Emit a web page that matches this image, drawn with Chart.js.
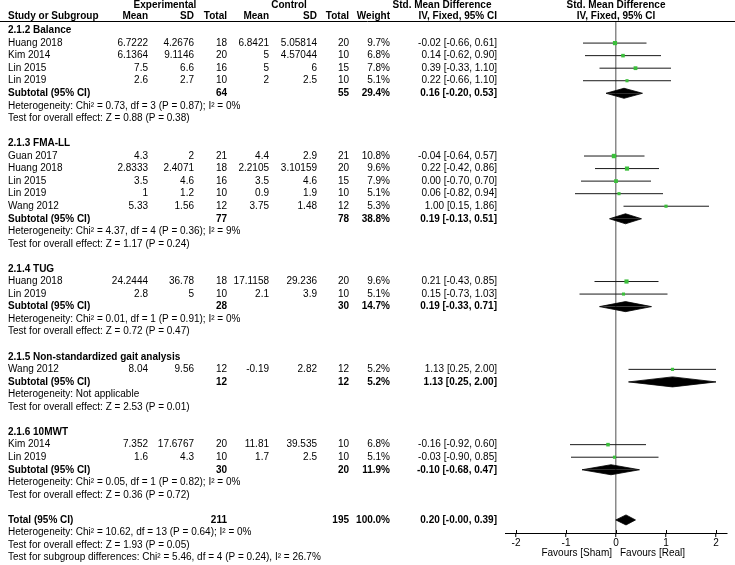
<!DOCTYPE html>
<html><head><meta charset="utf-8">
<script src="https://cdn.jsdelivr.net/npm/chart.js@4"></script>
<style>html,body{margin:0;padding:0;background:#fff}#wrap{width:735px;height:565px;position:relative;overflow:hidden}canvas{display:block}</style>
</head><body><div id="wrap"><canvas id="c" width="735" height="565"></canvas></div>
<script>
// ---------- data ----------
const groupNames = ['2.1.2 Balance', '2.1.3 FMA-LL', '2.1.4 TUG', '2.1.5 Non-standardized gait analysis', '2.1.6 10MWT'];
const groupSizes = [4, 5, 2, 1, 2];
const studyNames = ['Huang 2018', 'Kim 2014', 'Lin 2015', 'Lin 2019',
  'Guan 2017', 'Huang 2018', 'Lin 2015', 'Lin 2019', 'Wang 2012',
  'Huang 2018', 'Lin 2019',
  'Wang 2012',
  'Kim 2014', 'Lin 2019'];
const expMean = ['6.7222', '6.1364', '7.5', '2.6', '4.3', '2.8333', '3.5', '1', '5.33', '24.2444', '2.8', '8.04', '7.352', '1.6'];
const expSD = ['4.2676', '9.1146', '6.6', '2.7', '2', '2.4071', '4.6', '1.2', '1.56', '36.78', '5', '9.56', '17.6767', '4.3'];
const expTotal = [18, 20, 16, 10, 21, 18, 16, 10, 12, 18, 10, 12, 20, 10];
const ctlMean = ['6.8421', '5', '5', '2', '4.4', '2.2105', '3.5', '0.9', '3.75', '17.1158', '2.1', '-0.19', '11.81', '1.7'];
const ctlSD = ['5.05814', '4.57044', '6', '2.5', '2.9', '3.10159', '4.6', '1.9', '1.48', '29.236', '3.9', '2.82', '39.535', '2.5'];
const ctlTotal = [20, 10, 15, 10, 21, 20, 15, 10, 12, 20, 10, 12, 10, 10];
const studyWeight = [9.7, 6.8, 7.8, 5.1, 10.8, 9.6, 7.9, 5.1, 5.3, 9.6, 5.1, 5.2, 6.8, 5.1];
const studySMD = [-0.02, 0.14, 0.39, 0.22, -0.04, 0.22, 0.00, 0.06, 1.00, 0.21, 0.15, 1.13, -0.16, -0.03];
const studyLow = [-0.66, -0.62, -0.33, -0.66, -0.64, -0.42, -0.70, -0.82, 0.15, -0.43, -0.73, 0.25, -0.92, -0.90];
const studyHigh = [0.61, 0.90, 1.10, 1.10, 0.57, 0.86, 0.70, 0.94, 1.86, 0.85, 1.03, 2.00, 0.60, 0.85];

const subExpTotal = [64, 77, 28, 12, 30];
const subCtlTotal = [55, 78, 30, 12, 20];
const subWeight = [29.4, 38.8, 14.7, 5.2, 11.9];
const subSMD = [0.16, 0.19, 0.19, 1.13, -0.10];
const subLow = [-0.20, -0.13, -0.33, 0.25, -0.68];
const subHigh = [0.53, 0.51, 0.71, 2.00, 0.47];
const subHeterogeneity = [
  'Heterogeneity: Chi² = 0.73, df = 3 (P = 0.87); I² = 0%',
  'Heterogeneity: Chi² = 4.37, df = 4 (P = 0.36); I² = 9%',
  'Heterogeneity: Chi² = 0.01, df = 1 (P = 0.91); I² = 0%',
  'Heterogeneity: Not applicable',
  'Heterogeneity: Chi² = 0.05, df = 1 (P = 0.82); I² = 0%'];
const subOverall = [
  'Test for overall effect: Z = 0.88 (P = 0.38)',
  'Test for overall effect: Z = 1.17 (P = 0.24)',
  'Test for overall effect: Z = 0.72 (P = 0.47)',
  'Test for overall effect: Z = 2.53 (P = 0.01)',
  'Test for overall effect: Z = 0.36 (P = 0.72)'];

const totalLabel = 'Total (95% CI)';
const totalExp = 211;
const totalCtl = 195;
const totalWeight = 100.0;
const totalSMD = 0.20;
const totalLow = -0.004;
const totalHigh = 0.39;
const totalNotes = [
  'Heterogeneity: Chi² = 10.62, df = 13 (P = 0.64); I² = 0%',
  'Test for overall effect: Z = 1.93 (P = 0.05)',
  'Test for subgroup differences: Chi² = 5.46, df = 4 (P = 0.24), I² = 26.7%'];

const xTicks = [-2, -1, 0, 1, 2];
const favourLabels = ['Favours [Sham]', 'Favours [Real]'];

// ---------- row layout (row index per line of the table) ----------
const rows = [];   // {r, kind, i}
let r = 0, s = 0;
groupNames.forEach((g, gi) => {
  rows.push({ r: r++, kind: 'group', i: gi });
  for (let k = 0; k < groupSizes[gi]; k++) rows.push({ r: r++, kind: 'study', i: s++ });
  rows.push({ r: r++, kind: 'sub', i: gi });
  rows.push({ r: r++, kind: 'het', i: gi });
  rows.push({ r: r++, kind: 'test', i: gi });
  r++; // blank
});
const totalRow = r;
rows.push({ r: r++, kind: 'total' });
totalNotes.forEach((t, i) => rows.push({ r: r++, kind: 'note', i }));

const studyRow = [];
const subRow = [];
rows.forEach(o => { if (o.kind === 'study') studyRow[o.i] = o.r; if (o.kind === 'sub') subRow[o.i] = o.r; });

// ---------- styles ----------
const FONT = "'Liberation Sans', Arial, sans-serif";
const GREEN = '#3cbf3c';
const DIAMOND_HALF = 0.4;
const f2 = v => v.toFixed(2);
const ciText = (m, l, h) => `${f2(m)} [${f2(l)}, ${f2(h)}]`;
const markerRadius = w => (1.25 * Math.sqrt(w) + 0.3) / Math.SQRT2;

// ---------- datasets ----------
const datasets = [];
datasets.push({
  label: 'markers', order: 0, showLine: false,
  data: studySMD.map((v, i) => ({ x: v, y: studyRow[i] })),
  pointStyle: 'rect',
  pointRadius: studyWeight.map(markerRadius),
  pointHoverRadius: studyWeight.map(markerRadius),
  pointBackgroundColor: GREEN, pointBorderWidth: 0, borderWidth: 0
});
studySMD.forEach((v, i) => {
  datasets.push({
    label: 'ci' + i, order: 1,
    data: [{ x: studyLow[i], y: studyRow[i] }, { x: studyHigh[i], y: studyRow[i] }],
    borderColor: '#1a1a1a', borderWidth: 1, pointRadius: 0, fill: false, tension: 0
  });
});
const diamonds = subSMD.map((v, i) => ({ m: v, l: subLow[i], h: subHigh[i], r: subRow[i] }));
diamonds.push({ m: totalSMD, l: totalLow, h: totalHigh, r: totalRow });
diamonds.forEach((d, i) => {
  [-1, 1].forEach(sgn => {
    datasets.push({
      label: 'dia' + i + sgn, order: 2,
      data: [{ x: d.l, y: d.r }, { x: d.m, y: d.r + sgn * DIAMOND_HALF }, { x: d.h, y: d.r }],
      borderColor: '#000', backgroundColor: '#000', borderWidth: 0.8,
      pointRadius: 0, fill: { value: d.r }, tension: 0
    });
  });
});

// ---------- text plugin ----------
const tablePlugin = {
  id: 'table',
  afterDraw(chart) {
    const ctx = chart.ctx;
    const ys = chart.scales.y, xs = chart.scales.x;
    const x0 = xs.getPixelForValue(0);
    const Y = v => ys.getPixelForValue(v);
    const txt = (t, x, y, align, bold) => {
      ctx.font = (bold ? 'bold ' : '') + '10px ' + FONT;
      ctx.textAlign = align; ctx.textBaseline = 'middle'; ctx.fillStyle = '#000';
      ctx.fillText(String(t), x, y);
    };
    ctx.save();
    // header
    txt('Experimental', 165, 5, 'center', true);
    txt('Control', 289, 5, 'center', true);
    txt('Std. Mean Difference', 442, 5, 'center', true);
    txt('Std. Mean Difference', x0, 5, 'center', true);
    const hy = 16;
    txt('Study or Subgroup', 8, hy, 'left', true);
    txt('Mean', 148, hy, 'right', true);
    txt('SD', 194, hy, 'right', true);
    txt('Total', 227, hy, 'right', true);
    txt('Mean', 269, hy, 'right', true);
    txt('SD', 317, hy, 'right', true);
    txt('Total', 349, hy, 'right', true);
    txt('Weight', 390, hy, 'right', true);
    txt('IV, Fixed, 95% CI', 497, hy, 'right', true);
    txt('IV, Fixed, 95% CI', x0, hy, 'center', true);
    ctx.strokeStyle = '#000'; ctx.lineWidth = 1;
    ctx.beginPath(); ctx.moveTo(0, chart.chartArea.top - 0.5); ctx.lineTo(chart.width, chart.chartArea.top - 0.5); ctx.stroke();

    rows.forEach(o => {
      const y = Y(o.r);
      if (o.kind === 'group') txt(groupNames[o.i], 8, y, 'left', true);
      else if (o.kind === 'study') {
        const i = o.i;
        txt(studyNames[i], 8, y, 'left');
        txt(expMean[i], 148, y, 'right');
        txt(expSD[i], 194, y, 'right');
        txt(expTotal[i], 227, y, 'right');
        txt(ctlMean[i], 269, y, 'right');
        txt(ctlSD[i], 317, y, 'right');
        txt(ctlTotal[i], 349, y, 'right');
        txt(studyWeight[i].toFixed(1) + '%', 390, y, 'right');
        txt(ciText(studySMD[i], studyLow[i], studyHigh[i]), 497, y, 'right');
      } else if (o.kind === 'sub') {
        const i = o.i;
        txt('Subtotal (95% CI)', 8, y, 'left', true);
        txt(subExpTotal[i], 227, y, 'right', true);
        txt(subCtlTotal[i], 349, y, 'right', true);
        txt(subWeight[i].toFixed(1) + '%', 390, y, 'right', true);
        txt(ciText(subSMD[i], subLow[i], subHigh[i]), 497, y, 'right', true);
      } else if (o.kind === 'het') txt(subHeterogeneity[o.i], 8, y, 'left');
      else if (o.kind === 'test') txt(subOverall[o.i], 8, y, 'left');
      else if (o.kind === 'total') {
        txt(totalLabel, 8, y, 'left', true);
        txt(totalExp, 227, y, 'right', true);
        txt(totalCtl, 349, y, 'right', true);
        txt(totalWeight.toFixed(1) + '%', 390, y, 'right', true);
        txt(ciText(totalSMD, totalLow, totalHigh), 497, y, 'right', true);
      } else if (o.kind === 'note') txt(totalNotes[o.i], 8, y, 'left');
    });

    // tick marks above axis
    const b = chart.chartArea.bottom;
    ctx.strokeStyle = '#000'; ctx.lineWidth = 1;
    xs.ticks.forEach(t => {
      const px = Math.round(xs.getPixelForValue(t.value)) + 0.5;
      ctx.beginPath(); ctx.moveTo(px, b - 3); ctx.lineTo(px, b); ctx.stroke();
    });
    // favours labels
    txt(favourLabels[0], x0 - 4, b + 20, 'right');
    txt(favourLabels[1], x0 + 4, b + 20, 'left');
    ctx.restore();
  }
};

new Chart(document.getElementById('c'), {
  type: 'line',
  data: { datasets },
  options: {
    responsive: false, animation: false, devicePixelRatio: 1,
    layout: { padding: { left: 505, right: 8, top: 22, bottom: 0 } },
    plugins: { legend: { display: false }, tooltip: { enabled: false } },
    events: [],
    scales: {
      x: {
        type: 'linear', position: 'bottom', min: -2.22, max: 2.22,
        afterBuildTicks: sc => { sc.ticks = xTicks.map(v => ({ value: v })); },
        afterFit: sc => { sc.height = 32; },
        grid: {
          drawOnChartArea: true,
          color: c => (c.tick && c.tick.value === 0) ? '#8a8a8a' : 'rgba(0,0,0,0)',
          lineWidth: 1.5, tickColor: '#000', tickWidth: 1, tickLength: 4
        },
        border: { display: true, color: '#000', width: 1 },
        ticks: { color: '#000', font: { family: FONT, size: 10 }, padding: 0, maxRotation: 0, autoSkip: false, callback: v => String(v) }
      },
      y: { type: 'linear', reverse: true, min: -0.68, max: 40.04, display: false }
    }
  },
  plugins: [tablePlugin]
});
</script>
</body></html>
